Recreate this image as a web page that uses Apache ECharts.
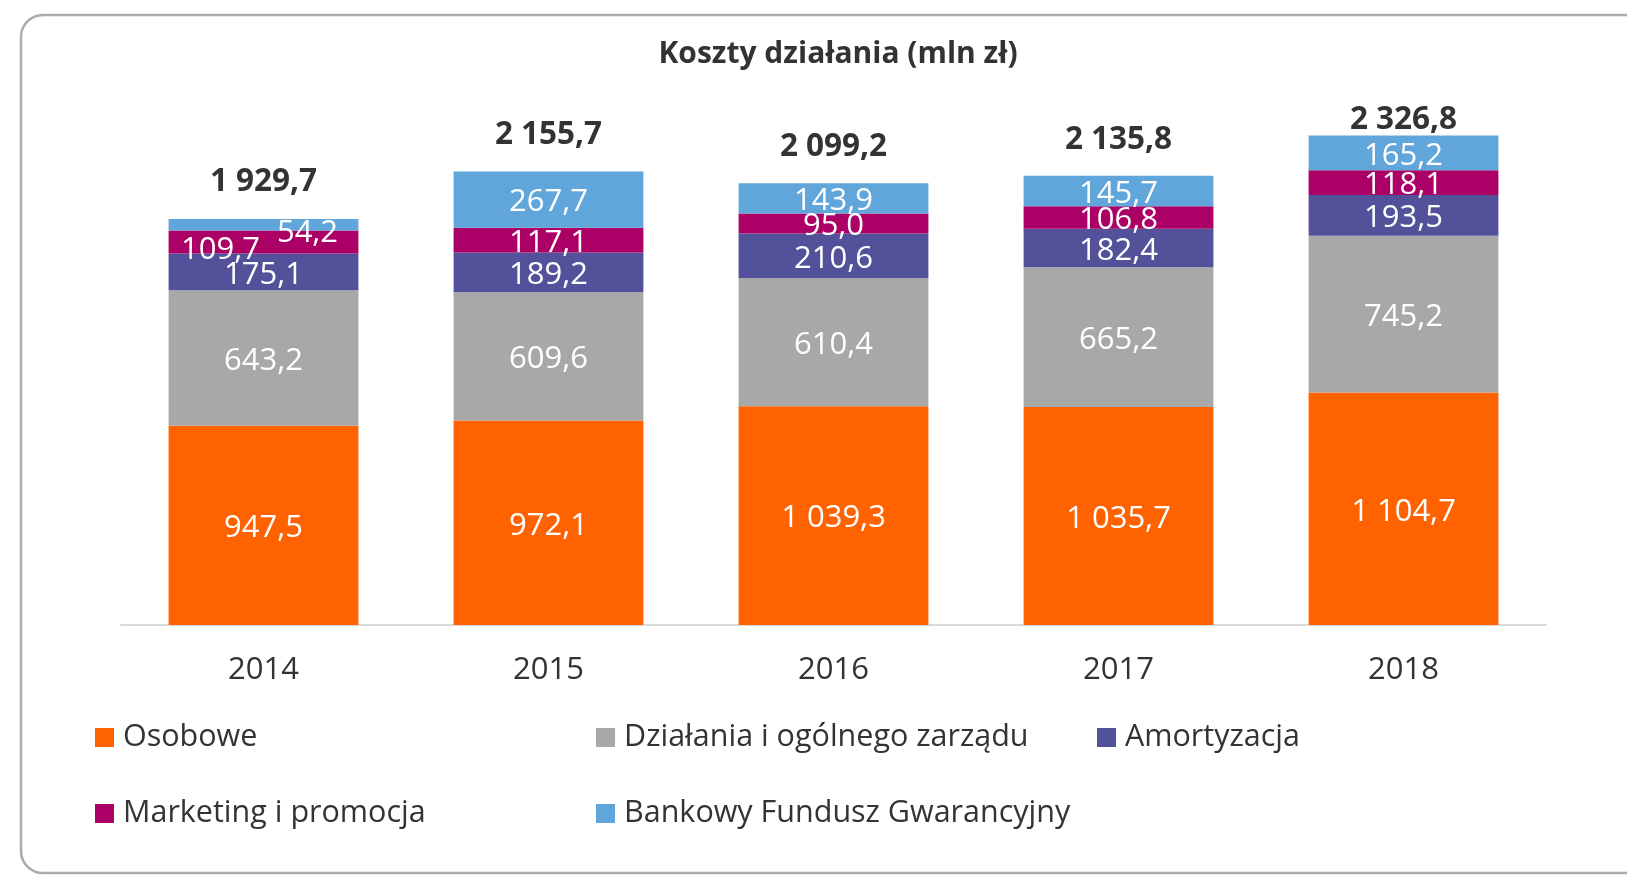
<!DOCTYPE html>
<html>
<head>
<meta charset="utf-8">
<script src="https://cdn.jsdelivr.net/npm/echarts@6/dist/echarts.min.js"></script>
<style>
html,body{margin:0;padding:0;background:#fff;}
#c{width:1627px;height:875px;}
</style>
</head>
<body>
<div id="c"></div>
<script>
const categories = ['2014', '2015', '2016', '2017', '2018'];
const osobowe = [947.5, 972.1, 1039.3, 1035.7, 1104.7];
const dzialania = [643.2, 609.6, 610.4, 665.2, 745.2];
const amortyzacja = [175.1, 189.2, 210.6, 182.4, 193.5];
const marketing = [109.7, 117.1, 95.0, 106.8, 118.1];
const bfg = [54.2, 267.7, 143.9, 145.7, 165.2];
const totals = [1929.7, 2155.7, 2099.2, 2135.8, 2326.8];

const seriesNames = ['Osobowe', 'Działania i ogólnego zarządu', 'Amortyzacja', 'Marketing i promocja', 'Bankowy Fundusz Gwarancyjny'];
const seriesValues = [osobowe, dzialania, amortyzacja, marketing, bfg];
const colors = ['#FF6200', '#A8A8A8', '#525199', '#AB0066', '#60A6DA'];

const FONT = '"Open Sans", sans-serif';
const DARK = '#333333';

function fmt(v) {
  const s = v.toFixed(1).split('.');
  const int = s[0].replace(/\B(?=(\d{3})+(?!\d))/g, ' ');
  return int + ',' + s[1];
}

// label nudges for crowded segments (series index -> data index -> offset)
const labelNudges = { 3: { 0: [-43, 8] }, 4: { 0: [44, 8] } };
const totalDistances = [21, 20, 20, 20, -1];

const series = seriesValues.map((vals, si) => ({
  name: seriesNames[si],
  type: 'bar',
  stack: 'koszty',
  barCategoryGap: '33.4%',
  barGap: '-100%',
  itemStyle: { color: colors[si] },
  label: {
    show: true, position: 'inside', color: '#fff', offset: [0, 3],
    fontFamily: FONT, fontSize: 31, formatter: p => fmt(p.value)
  },
  data: vals.map((v, di) => {
    const n = labelNudges[si] && labelNudges[si][di];
    return n ? { value: v, label: { offset: n } } : v;
  })
}));

series.push({
  name: 'Razem',
  type: 'bar',
  barGap: '-100%',
  barCategoryGap: '33.4%',
  z: 1,
  itemStyle: { color: 'rgba(0,0,0,0)' },
  label: {
    show: true, position: 'top', color: DARK, fontWeight: 'bold',
    fontFamily: FONT, fontSize: 31.5, formatter: p => fmt(p.value)
  },
  data: totals.map((v, i) => ({ value: v, label: { distance: totalDistances[i] } }))
});

const legendPos = [[90, 717], [591, 717], [1092, 717], [90, 793], [591, 793]];
const legends = seriesNames.map((n, i) => ({
  data: [n],
  left: legendPos[i][0],
  top: legendPos[i][1],
  icon: 'rect',
  itemWidth: 19,
  itemHeight: 19,
  selectedMode: false,
  textStyle: { color: DARK, fontFamily: FONT, fontSize: 30.5, padding: [0, 0, 0, 4] }
}));

const chart = echarts.init(document.getElementById('c'), null, { renderer: 'canvas' });
chart.setOption({
  animation: false,
  backgroundColor: '#fff',
  color: colors,
  title: {
    text: 'Koszty działania (mln zł)',
    left: 833, top: 34, textAlign: 'center',
    textStyle: { color: DARK, fontFamily: FONT, fontWeight: 'bold', fontSize: 30 }
  },
  graphic: [{
    type: 'rect', z: -10,
    shape: { x: 21, y: 15, width: 1700, height: 858, r: 22 },
    style: { fill: 'none', stroke: '#ABABAB', lineWidth: 2.5 }
  }],
  legend: legends,
  grid: { left: 121, right: 81, top: 99, bottom: 250, containLabel: false },
  xAxis: {
    type: 'category', data: categories,
    axisLine: { lineStyle: { color: '#D9D9D9', width: 2 } },
    axisTick: { show: false },
    axisLabel: { color: DARK, fontFamily: FONT, fontSize: 31, margin: 30 }
  },
  yAxis: {
    type: 'value', min: 0, max: 2500, show: false,
    splitLine: { show: false }
  },
  series: series
});
</script>
</body>
</html>
